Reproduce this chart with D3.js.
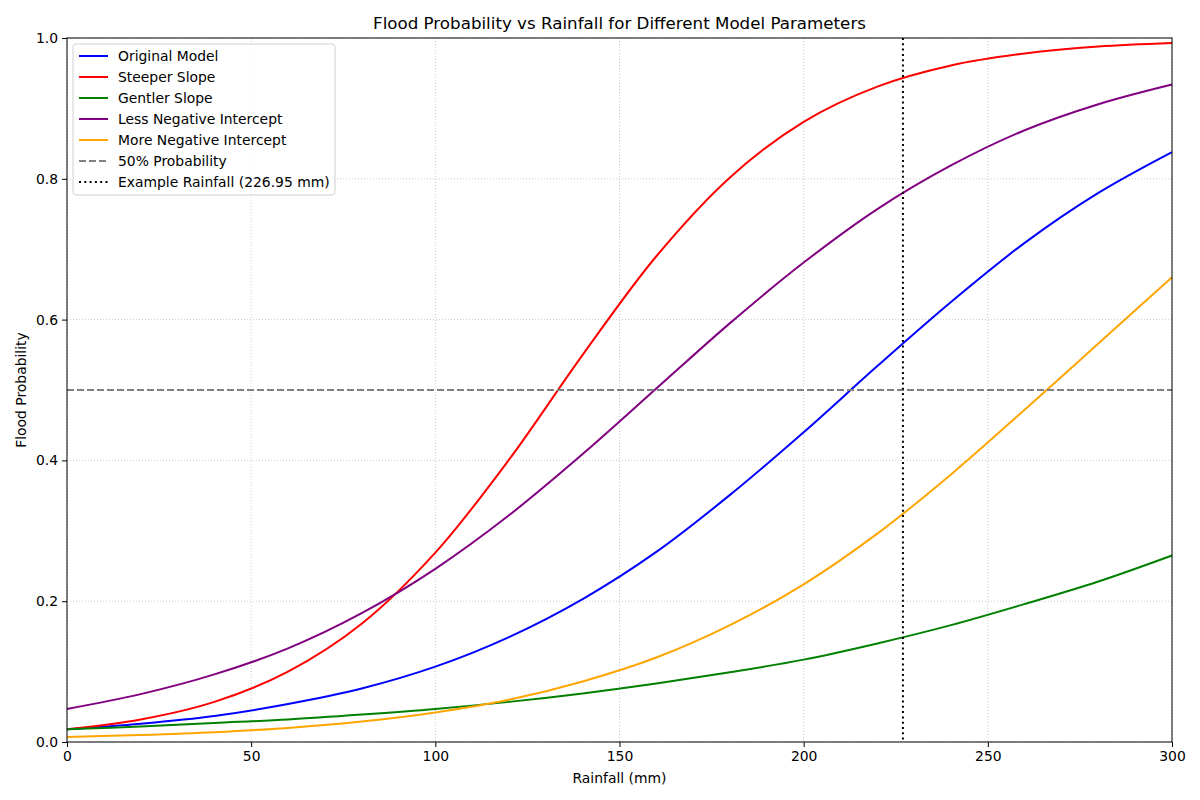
<!DOCTYPE html>
<html>
<head>
<meta charset="utf-8">
<script src="https://cdn.jsdelivr.net/npm/d3@7"></script>
<style>
  body { margin: 0; background: #fff; }
  svg { font-family: "DejaVu Sans", sans-serif; }
</style>
</head>
<body>
<div id="chart"></div>
<script>
// rainfall sample points (mm)
var rainfall = [0, 20, 40, 60, 80, 100, 120, 140, 160, 180, 200, 220, 240, 260, 280, 300];

// flood probability
var originalModel = [0.018, 0.026, 0.037, 0.054, 0.076, 0.107, 0.149, 0.203, 0.270, 0.351, 0.440, 0.534, 0.625, 0.709, 0.780, 0.838];
var steeperSlope = [0.018, 0.032, 0.057, 0.100, 0.168, 0.269, 0.401, 0.550, 0.690, 0.802, 0.881, 0.931, 0.961, 0.978, 0.988, 0.993];
var gentlerSlope = [0.018, 0.022, 0.027, 0.032, 0.039, 0.047, 0.057, 0.069, 0.083, 0.099, 0.117, 0.140, 0.166, 0.196, 0.228, 0.265];
var lessNegative = [0.047, 0.068, 0.096, 0.133, 0.183, 0.246, 0.322, 0.409, 0.502, 0.595, 0.681, 0.757, 0.819, 0.869, 0.906, 0.934];
var moreNegative = [0.007, 0.010, 0.014, 0.020, 0.029, 0.042, 0.060, 0.086, 0.120, 0.166, 0.224, 0.296, 0.380, 0.472, 0.566, 0.660];

var seriesNames = ['Original Model', 'Steeper Slope', 'Gentler Slope', 'Less Negative Intercept', 'More Negative Intercept'];
var seriesColors = ['blue', 'red', 'green', 'purple', 'orange'];
var seriesValues = [originalModel, steeperSlope, gentlerSlope, lessNegative, moreNegative];

var thresholdProb = 0.5;
var exampleRainfall = 226.95;

var xTicks = [0, 50, 100, 150, 200, 250, 300];
var yTicks = [0, 0.2, 0.4, 0.6, 0.8, 1.0];

var svgWidth = 1200;
var svgHeight = 800;

var margins = { top: 38, right: 28, bottom: 58, left: 67 };

var width = svgWidth - margins.left - margins.right;
var height = svgHeight - margins.top - margins.bottom;

var svg = d3.select('#chart')
    .append('svg')
    .attr('width', svgWidth)
    .attr('height', svgHeight);

var chartGroup = svg.append('g')
    .attr('transform', `translate(${margins.left},${margins.top})`);

var xScale = d3.scaleLinear().domain([0, 300]).range([0, width]);
var yScale = d3.scaleLinear().domain([0, 1]).range([height, 0]);

// grid
chartGroup.append('g')
    .selectAll('line.vgrid')
    .data(xTicks)
    .enter()
    .append('line')
    .attr('x1', d => xScale(d)).attr('x2', d => xScale(d))
    .attr('y1', 0).attr('y2', height)
    .attr('stroke', '#c4c4c4').attr('stroke-width', 0.9)
    .attr('stroke-dasharray', '1,2');

chartGroup.append('g')
    .selectAll('line.hgrid')
    .data(yTicks)
    .enter()
    .append('line')
    .attr('y1', d => yScale(d)).attr('y2', d => yScale(d))
    .attr('x1', 0).attr('x2', width)
    .attr('stroke', '#c4c4c4').attr('stroke-width', 0.9)
    .attr('stroke-dasharray', '1,2');

// curves
var line = d3.line()
    .x((d, i) => xScale(rainfall[i]))
    .y(d => yScale(d))
    .curve(d3.curveCatmullRom.alpha(0.5));

seriesValues.forEach(function (vals, i) {
    chartGroup.append('path')
        .datum(vals)
        .attr('fill', 'none')
        .attr('stroke', seriesColors[i])
        .attr('stroke-width', 2)
        .attr('d', line);
});

// 50% reference line
chartGroup.append('line')
    .attr('x1', 0).attr('x2', width)
    .attr('y1', yScale(thresholdProb)).attr('y2', yScale(thresholdProb))
    .attr('stroke', 'gray').attr('stroke-width', 2)
    .attr('stroke-dasharray', '7,3');

// example rainfall line
chartGroup.append('line')
    .attr('x1', xScale(exampleRainfall)).attr('x2', xScale(exampleRainfall))
    .attr('y1', 0).attr('y2', height)
    .attr('stroke', 'black').attr('stroke-width', 2)
    .attr('stroke-dasharray', '2,3.3');

// axes
var bottomAxis = d3.axisBottom(xScale).tickValues(xTicks).tickSize(5).tickPadding(4).tickFormat(d3.format('d'));
var leftAxis = d3.axisLeft(yScale).tickValues(yTicks).tickSize(5).tickPadding(4).tickFormat(d3.format('.1f'));

var xAxis = chartGroup.append('g')
    .attr('transform', `translate(0, ${height})`)
    .call(bottomAxis);

var yAxis = chartGroup.append('g')
    .call(leftAxis);

[xAxis, yAxis].forEach(function (ax) {
    ax.select('.domain').remove();
    ax.selectAll('text').attr('font-size', 13.9).attr('fill', 'black').attr('font-family', 'DejaVu Sans');
    ax.selectAll('line').attr('stroke', 'black').attr('stroke-width', 1);
});

// frame
chartGroup.append('rect')
    .attr('x', 0).attr('y', 0)
    .attr('width', width).attr('height', height)
    .attr('fill', 'none').attr('stroke', 'black').attr('stroke-width', 1);

// labels
svg.append('text')
    .attr('x', margins.left + width / 2)
    .attr('y', 29)
    .attr('text-anchor', 'middle')
    .attr('font-size', 16.7)
    .text('Flood Probability vs Rainfall for Different Model Parameters');

svg.append('text')
    .attr('x', margins.left + width / 2)
    .attr('y', 783)
    .attr('text-anchor', 'middle')
    .attr('font-size', 13.9)
    .text('Rainfall (mm)');

svg.append('text')
    .attr('transform', `translate(26, ${margins.top + height / 2}) rotate(-90)`)
    .attr('text-anchor', 'middle')
    .attr('font-size', 13.9)
    .text('Flood Probability');

// legend
var legendNames = seriesNames.concat(['50% Probability', 'Example Rainfall (226.95 mm)']);
var legendColors = seriesColors.concat(['gray', 'black']);
var legendDash = [null, null, null, null, null, '7,3', '2,3.3'];

var legend = chartGroup.append('g')
    .attr('transform', 'translate(6, 6)');

legend.append('rect')
    .attr('width', 262).attr('height', 151)
    .attr('rx', 3)
    .attr('fill', 'white').attr('fill-opacity', 0.8)
    .attr('stroke', '#d0d0d0').attr('stroke-width', 1);

legendNames.forEach(function (name, i) {
    var y = 12 + i * 21;
    legend.append('line')
        .attr('x1', 6).attr('x2', 35)
        .attr('y1', y).attr('y2', y)
        .attr('stroke', legendColors[i]).attr('stroke-width', 2)
        .attr('stroke-dasharray', legendDash[i]);
    legend.append('text')
        .attr('x', 45).attr('y', y)
        .attr('dy', '0.35em')
        .attr('font-size', 13.9)
        .text(name);
});
</script>
</body>
</html>
